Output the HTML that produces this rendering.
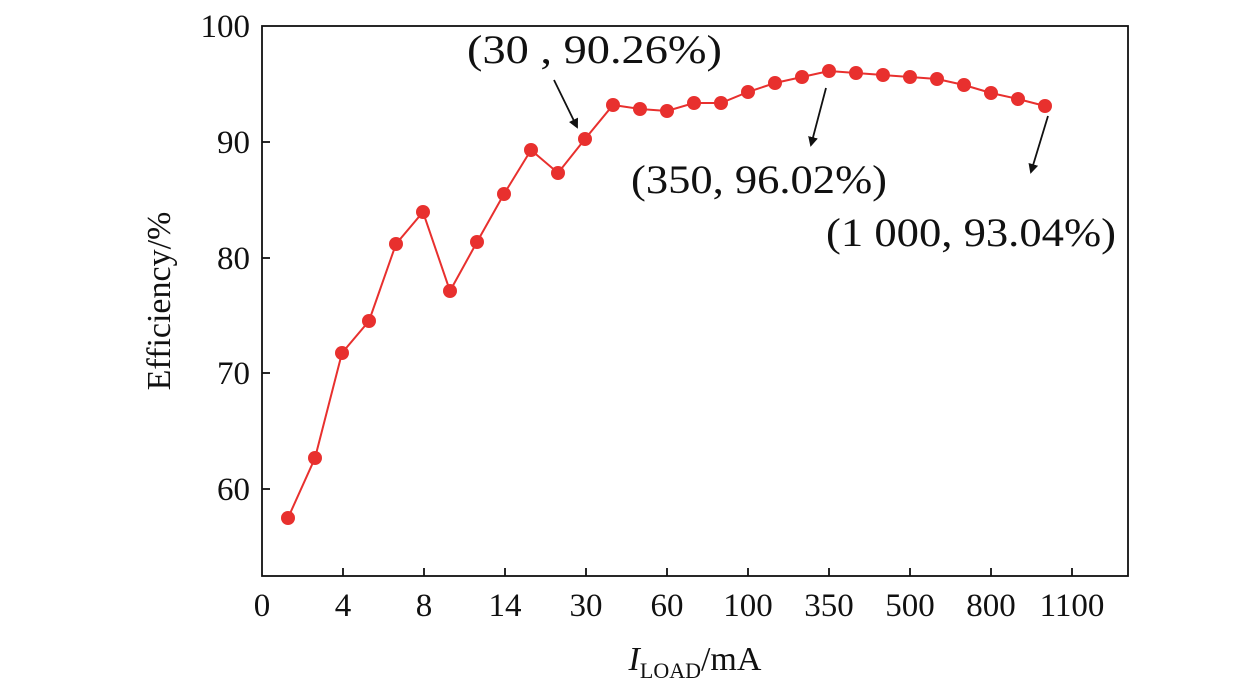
<!DOCTYPE html>
<html><head><meta charset="utf-8"><style>
html,body{margin:0;padding:0;background:#fff;}
svg{display:block;}
text{font-family:"Liberation Serif",serif;fill:#111;}
</style></head><body>
<svg width="1260" height="696" viewBox="0 0 1260 696" xmlns="http://www.w3.org/2000/svg">
<defs><marker id="ah" markerWidth="10" markerHeight="10" refX="8" refY="5" orient="auto" markerUnits="userSpaceOnUse"><path d="M0,0 L10,5 L0,10 z" fill="#111"/></marker></defs>
<rect x="262" y="26" width="866" height="550" fill="none" stroke="#111" stroke-width="1.8"/>
<g stroke="#111" stroke-width="1.8">
<line x1="262" y1="142" x2="270" y2="142"/><line x1="262" y1="258" x2="270" y2="258"/><line x1="262" y1="373" x2="270" y2="373"/><line x1="262" y1="489" x2="270" y2="489"/>
<line x1="343" y1="576" x2="343" y2="568"/><line x1="424" y1="576" x2="424" y2="568"/><line x1="505" y1="576" x2="505" y2="568"/><line x1="586" y1="576" x2="586" y2="568"/><line x1="667" y1="576" x2="667" y2="568"/><line x1="748" y1="576" x2="748" y2="568"/><line x1="829" y1="576" x2="829" y2="568"/><line x1="910" y1="576" x2="910" y2="568"/><line x1="991" y1="576" x2="991" y2="568"/><line x1="1072" y1="576" x2="1072" y2="568"/>
</g>
<g font-size="33" text-anchor="end">
<text x="250" y="37">100</text><text x="250" y="153">90</text><text x="250" y="269">80</text><text x="250" y="384">70</text><text x="250" y="500">60</text>
</g>
<g font-size="33" text-anchor="middle">
<text x="262" y="616">0</text><text x="343" y="616">4</text><text x="424" y="616">8</text><text x="505" y="616">14</text><text x="586" y="616">30</text><text x="667" y="616">60</text><text x="748" y="616">100</text><text x="829" y="616">350</text><text x="910" y="616">500</text><text x="991" y="616">800</text><text x="1072" y="616">1100</text>
</g>
<text x="695" y="670" font-size="34" text-anchor="middle"><tspan font-style="italic">I</tspan><tspan font-size="22" dy="8">LOAD</tspan><tspan dy="-8">/mA</tspan></text>
<text transform="translate(170,301) rotate(-90)" font-size="34" text-anchor="middle">Efficiency/%</text>
<polyline fill="none" stroke="#e8302e" stroke-width="2" points="288,518 315,458 342,353 369,321 396,244 423,212 450,291 477,242 504,194 531,150 558,173 585,139 613,105 640,109 667,111 694,103 721,103 748,92 775,83 802,77 829,71 856,73 883,75 910,77 937,79 964,85 991,93 1018,99 1045,106"/>
<g fill="#e8302e">
<circle cx="288" cy="518" r="7"/><circle cx="315" cy="458" r="7"/><circle cx="342" cy="353" r="7"/><circle cx="369" cy="321" r="7"/><circle cx="396" cy="244" r="7"/><circle cx="423" cy="212" r="7"/><circle cx="450" cy="291" r="7"/><circle cx="477" cy="242" r="7"/><circle cx="504" cy="194" r="7"/><circle cx="531" cy="150" r="7"/><circle cx="558" cy="173" r="7"/><circle cx="585" cy="139" r="7"/><circle cx="613" cy="105" r="7"/><circle cx="640" cy="109" r="7"/><circle cx="667" cy="111" r="7"/><circle cx="694" cy="103" r="7"/><circle cx="721" cy="103" r="7"/><circle cx="748" cy="92" r="7"/><circle cx="775" cy="83" r="7"/><circle cx="802" cy="77" r="7"/><circle cx="829" cy="71" r="7"/><circle cx="856" cy="73" r="7"/><circle cx="883" cy="75" r="7"/><circle cx="910" cy="77" r="7"/><circle cx="937" cy="79" r="7"/><circle cx="964" cy="85" r="7"/><circle cx="991" cy="93" r="7"/><circle cx="1018" cy="99" r="7"/><circle cx="1045" cy="106" r="7"/>
</g>
<g stroke="#111" stroke-width="1.8" marker-end="url(#ah)">
<line x1="554" y1="80" x2="577" y2="127"/>
<line x1="826" y1="88" x2="811" y2="145"/>
<line x1="1048" y1="116" x2="1031" y2="172"/>
</g>
<g font-size="40">
<text x="467" y="63" textLength="255" lengthAdjust="spacingAndGlyphs">(30 ,  90.26%)</text>
<text x="631" y="193" textLength="256" lengthAdjust="spacingAndGlyphs">(350, 96.02%)</text>
<text x="826" y="246" textLength="290" lengthAdjust="spacingAndGlyphs">(1 000, 93.04%)</text>
</g>
</svg>
</body></html>
